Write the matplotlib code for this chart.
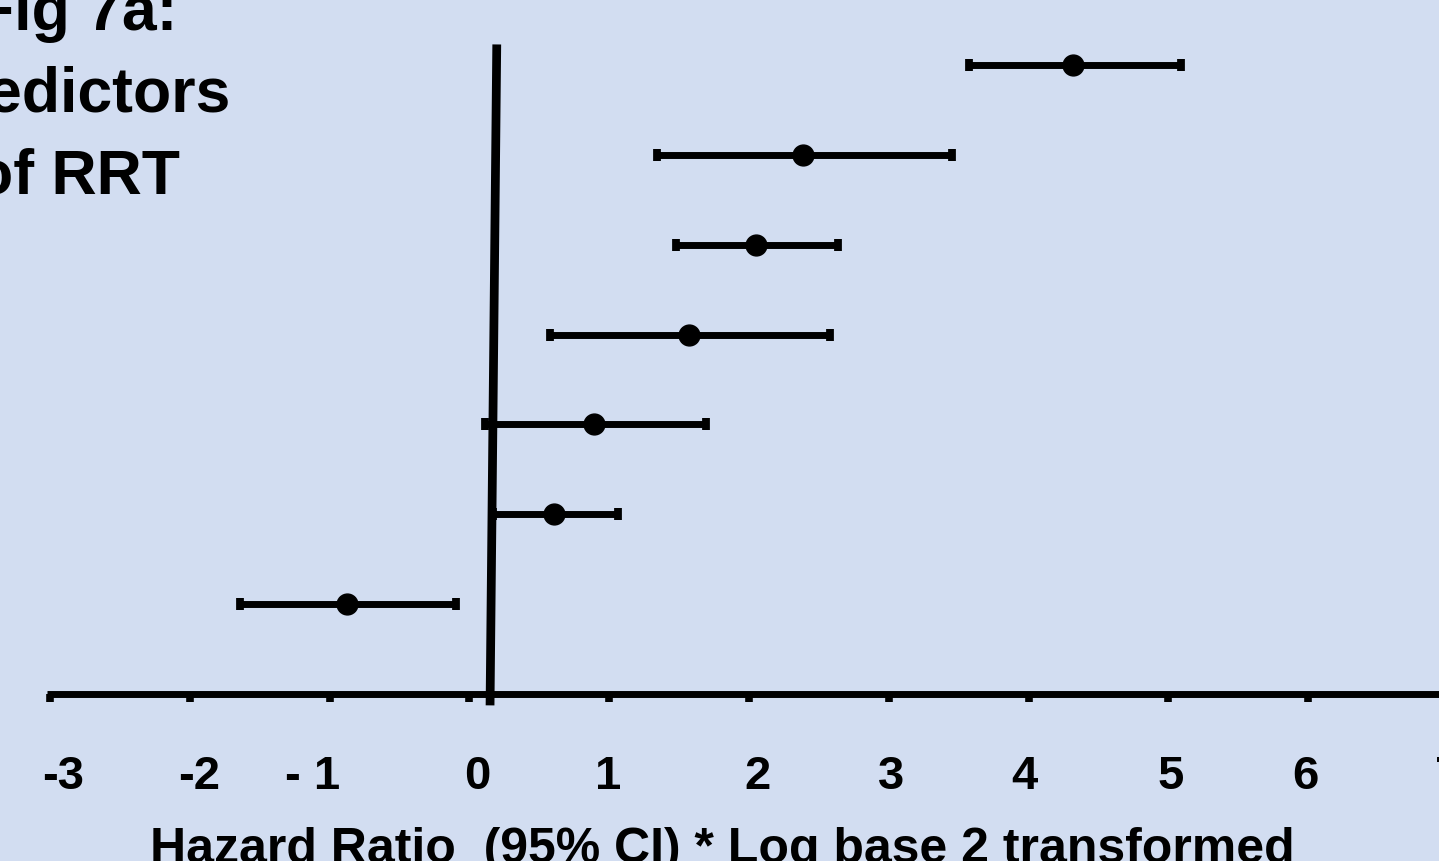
import matplotlib
matplotlib.use("Agg")
import matplotlib.pyplot as plt
from matplotlib.transforms import ScaledTranslation

# ---- data (log2 hazard ratio, 95% CI) ----
rows = [7, 6, 5, 4, 3, 2, 1]
hr_log2 = [4.317, 2.386, 2.049, 1.570, 0.891, 0.604, -0.876]
ci_low = [3.571, 1.339, 1.475, 0.576, 0.109, 0.168, -1.642]
ci_high = [5.090, 3.451, 2.636, 2.579, 1.692, 1.060, -0.097]

tick_values = [-3, -2, -1, 0, 1, 2, 3, 4, 5, 6, 7]
tick_labels = ["-3", "-2", "- 1", "0", "1", "2", "3", "4", "5", "6", "7"]

title_text = "Fig 7a:\nPredictors\nof RRT"
xlabel_text = "Hazard Ratio  (95% CI) * Log base 2 transformed"

# reference (null) line end points, as drawn (slightly tilted)
ref_x = [0.147, 0.195]
ref_y = [-0.13, 7.23]

# ---- style ----
BG = "#d2ddf1"
FONT = "Liberation Sans"
W, H = 1439, 861
DPI = 100

fig = plt.figure(figsize=(W / DPI, H / DPI), dpi=DPI, facecolor=BG)

px_per_unit_x = 139.8
x0_px = 469.5
xmin, xmax = -3.022, 7.2
row_px = 89.8
y0_px = 693.7
ymin, ymax = 0.0, 7.5

left_px = x0_px + xmin * px_per_unit_x
right_px = x0_px + xmax * px_per_unit_x
bottom_px = y0_px - ymin * row_px
top_px = y0_px - ymax * row_px
ax = fig.add_axes([left_px / W, (H - bottom_px) / H,
                   (right_px - left_px) / W, (bottom_px - top_px) / H])
ax.set_facecolor(BG)
ax.set_xlim(xmin, xmax)
ax.set_ylim(ymin, ymax)

xerr = [[h - l for h, l in zip(hr_log2, ci_low)],
        [u - h for h, u in zip(hr_log2, ci_high)]]
ax.errorbar(hr_log2, rows, xerr=xerr, fmt="o", color="black",
            ecolor="black", elinewidth=5, capsize=4.4, capthick=5.6,
            markersize=15, zorder=3)

ax.plot(ref_x, ref_y, color="black", linewidth=6.3, solid_capstyle="butt",
        clip_on=False, zorder=4)

for side in ["left", "right", "top"]:
    ax.spines[side].set_visible(False)
ax.spines["bottom"].set_linewidth(5)
ax.spines["bottom"].set_capstyle("butt")
ax.set_yticks([])

ax.set_xticks(tick_values)
ax.set_xticklabels(tick_labels, fontsize=34, fontweight="bold", family=FONT)
ax.tick_params(axis="x", direction="out", length=5.8, width=5.5,
               pad=38, color="black")

label_offsets_px = [13, 9, -17, 8, -1, 8, 2, -4, 2, -3, 0]
for lab, dx in zip(ax.get_xticklabels(), label_offsets_px):
    lab.set_transform(lab.get_transform() +
                      ScaledTranslation(dx / DPI, 0, fig.dpi_scale_trans))

# baseline alignment applies to the last line here
fig.text(77 / W, (H - 193) / H, title_text, ha="center", va="baseline",
         multialignment="center", fontsize=45, fontweight="bold",
         family=FONT, linespacing=1.49)

fig.text(722 / W, -2 / H, xlabel_text, ha="center", va="baseline",
         fontsize=36, fontweight="bold", family=FONT)

fig.savefig("out.png", dpi=DPI, facecolor=BG)
